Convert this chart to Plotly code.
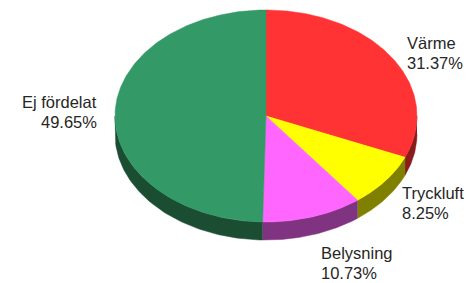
import numpy as np
import plotly.graph_objects as go

# Data (clockwise from 12 o'clock)
labels = ["Värme", "Tryckluft", "Belysning", "Ej fördelat"]
values = [31.37, 8.25, 10.73, 49.65]
colors = ["#FF3333", "#FFFF00", "#FF66FF", "#339966"]
side_colors = ["#8A1C1C", "#808000", "#803380", "#1B4D33"]

# Layout/style (pixel geometry of the pseudo-3D pie)
W, H = 470, 283
cx, cy, rx, ry, depth = 266, 116, 151, 106, 18
line_gap = 20
label_pos = {  # x, y of first line, anchor
    "Värme": (405, 43, "left"),
    "Tryckluft": (400, 193, "left"),
    "Belysning": (319, 253, "left"),
    "Ej fördelat": (99, 102, "right"),
}

fig = go.Figure()

total = sum(values)
bounds = np.concatenate([[0], np.cumsum(values)]) / total * 2 * np.pi


def pt(t, dy=0.0):
    return cx + rx * np.sin(t), cy - ry * np.cos(t) + dy


# sides (visible front half: pi/2 .. 3pi/2)
for i in range(len(values)):
    a, b = bounds[i], bounds[i + 1]
    lo, hi = max(a, np.pi / 2), min(b, 3 * np.pi / 2)
    if hi <= lo:
        continue
    t = np.linspace(lo, hi, 80)
    x1, y1 = pt(t)
    x2, y2 = pt(t[::-1], depth)
    fig.add_trace(go.Scatter(
        x=np.concatenate([x1, x2]), y=np.concatenate([y1, y2]),
        fill="toself", mode="lines", fillcolor=side_colors[i],
        line=dict(color=side_colors[i], width=0.5), hoverinfo="skip",
        showlegend=False))

# tops
for i in range(len(values)):
    a, b = bounds[i], bounds[i + 1]
    t = np.linspace(a, b, 200)
    x, y = pt(t)
    fig.add_trace(go.Scatter(
        x=np.concatenate([[cx], x, [cx]]), y=np.concatenate([[cy], y, [cy]]),
        fill="toself", mode="lines", fillcolor=colors[i],
        line=dict(color=colors[i], width=0.5), hoverinfo="skip",
        showlegend=False))

font = dict(family="Liberation Sans, Arial", size=16.5, color="#262626")
for lab, v in zip(labels, values):
    x, y, anc = label_pos[lab]
    for k, txt in enumerate([lab, f"{v:.2f}%"]):
        fig.add_annotation(
            x=x, y=y + k * line_gap, xref="x", yref="y", text=txt,
            showarrow=False, xanchor=anc, yanchor="middle", align=anc,
            font=font)

fig.update_layout(
    width=W, height=H, margin=dict(l=0, r=0, t=0, b=0),
    paper_bgcolor="white", plot_bgcolor="white",
    xaxis=dict(range=[0, W], visible=False, fixedrange=True),
    yaxis=dict(range=[H, 0], visible=False, fixedrange=True),
)

fig.write_html("out.html", config={"displayModeBar": False},
               post_script="document.body.style.margin='0px';"
                           "document.body.style.overflow='hidden';")
